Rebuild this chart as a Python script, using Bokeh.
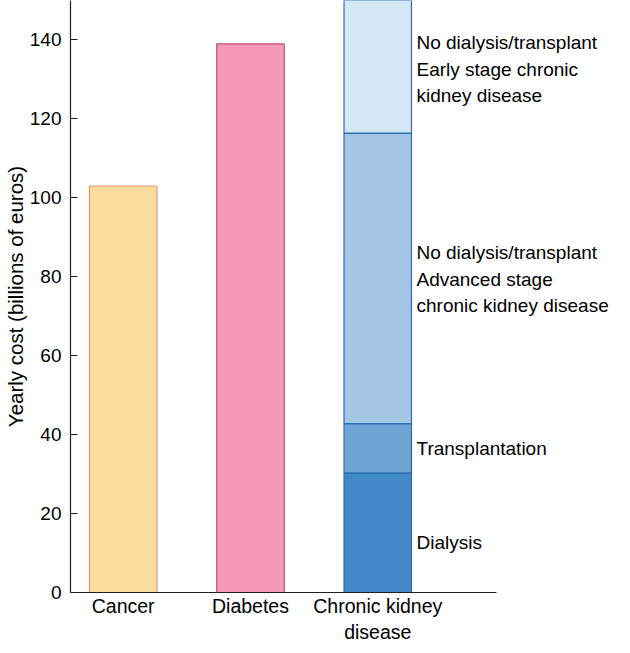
import numpy as np
from bokeh.plotting import figure
from bokeh.models import FixedTicker, ColumnDataSource
from bokeh.core.properties import value
from bokeh.embed import file_html
from bokeh.resources import INLINE

# ---- data ----
categories = ["Cancer", "Diabetes", "Chronic kidney\ndisease"]
single_values = [103, 139]          # Cancer, Diabetes
ckd_segments = ["Dialysis", "Transplantation",
                "No dialysis/transplant\nAdvanced stage\nchronic kidney disease",
                "No dialysis/transplant\nEarly stage chronic\nkidney disease"]
ckd_values = [30.3, 12.5, 73.6, 33.6]
y_ticks = [0, 20, 40, 60, 80, 100, 120, 140]
label_y = [12.7, 36.6, 79.4, 132.6]   # vertical placement of segment labels

FONT = "Liberation Sans"
xpos = [1, 2, 3]
bar_w = 0.53

p = figure(width=614, height=645, output_backend="svg", toolbar_location=None,
           x_range=(0.586, 4.86), y_range=(0, 150),
           min_border_left=0, min_border_right=0, min_border_top=0, min_border_bottom=0)
p.outline_line_color = None
p.xgrid.visible = False
p.ygrid.visible = False

# single bars
p.vbar(x=xpos[0], top=single_values[0], width=bar_w, bottom=0,
       fill_color="#FADD9D", line_color="#E8937A", line_width=1.2)
p.vbar(x=xpos[1], top=single_values[1], width=bar_w, bottom=0,
       fill_color="#F59AB9", line_color="#C4496F", line_width=1.2)

# stacked CKD bar
tops = np.cumsum(ckd_values)
bottoms = tops - np.array(ckd_values)
ckd_colors = ["#4189C7", "#6FA5D4", "#A2C6E3", "#D5E6F5"]
src = ColumnDataSource(dict(x=[xpos[2]] * 4, top=tops, bottom=bottoms, color=ckd_colors))
p.vbar(x="x", top="top", bottom="bottom", width=bar_w, fill_color="color",
       line_color="#2F6EAE", line_width=1.2, source=src)

# segment labels
lsrc = ColumnDataSource(dict(x=[xpos[2] + bar_w / 2] * 4, y=label_y, t=ckd_segments))
p.text(x="x", y="y", text="t", source=lsrc, x_offset=5,
       text_font=value(FONT), text_font_size="19px", text_color="#000000",
       text_align="left", text_baseline="middle", text_line_height=1.25)

# axes
xa = p.xaxis[0]
xa.ticker = FixedTicker(ticks=xpos)
xa.major_label_overrides = {x: c for x, c in zip(xpos, categories)}
xa.bounds = (0.586, 3.93)
xa.major_tick_line_color = None
xa.minor_tick_line_color = None
xa.major_tick_out = 0
xa.major_tick_in = 0
xa.major_label_standoff = 2
xa.major_label_text_font = FONT
xa.major_label_text_font_size = "19.5px"
xa.major_label_text_color = "#000000"
xa.axis_line_color = "#231F20"
xa.axis_line_width = 1.2

ya = p.yaxis[0]
ya.ticker = FixedTicker(ticks=y_ticks)
ya.minor_tick_line_color = None
ya.major_tick_in = 7
ya.major_tick_out = 0
ya.major_tick_line_color = "#231F20"
ya.major_label_standoff = 9
ya.major_label_text_font = FONT
ya.major_label_text_font_size = "19px"
ya.major_label_text_color = "#000000"
ya.axis_label = "Yearly cost (billions of euros)"
ya.axis_label_text_font = FONT
ya.axis_label_text_font_size = "20.5px"
ya.axis_label_text_font_style = "normal"
ya.axis_label_text_color = "#000000"
ya.axis_label_standoff = 0
ya.axis_line_color = "#231F20"
ya.axis_line_width = 1.2

open("out.html", "w").write(file_html(p, INLINE))
